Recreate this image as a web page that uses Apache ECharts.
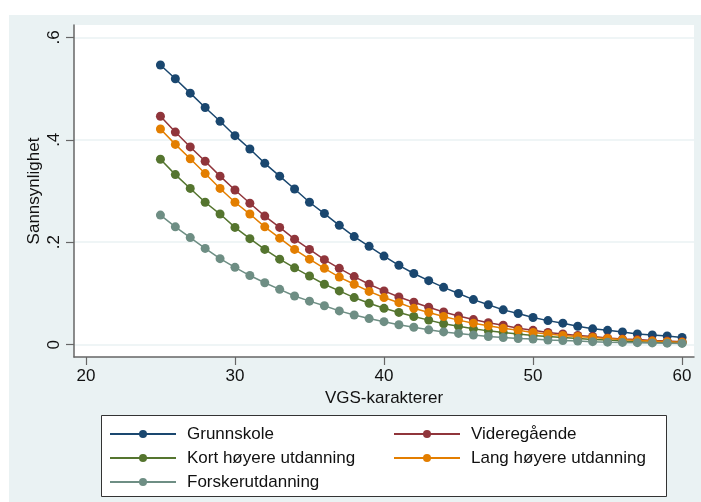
<!DOCTYPE html>
<html>
<head>
<meta charset="utf-8">
<script src="https://cdn.jsdelivr.net/npm/echarts@6/dist/echarts.min.js"></script>
<style>
html,body{margin:0;padding:0;background:#fff;}
#chart{width:701px;height:502px;}
</style>
</head>
<body>
<div id="chart"></div>
<script>
const xValues = [25,26,27,28,29,30,31,32,33,34,35,36,37,38,39,40,41,42,43,44,45,46,47,48,49,50,51,52,53,54,55,56,57,58,59,60];
const grunnskole = [.546,.519,.491,.463,.436,.408,.382,.354,.329,.304,.278,.256,.233,.211,.192,.173,.155,.139,.125,.112,.100,.088,.078,.068,.061,.053,.047,.042,.036,.031,.028,.025,.021,.019,.017,.014];
const videregaende = [.446,.415,.386,.358,.329,.302,.276,.251,.229,.206,.186,.166,.149,.133,.118,.105,.093,.083,.073,.064,.056,.049,.043,.038,.032,.028,.024,.021,.018,.016,.013,.011,.010,.008,.007,.006];
const kortHoyere = [.362,.332,.305,.278,.255,.229,.207,.186,.167,.150,.134,.118,.105,.092,.081,.071,.063,.055,.048,.041,.036,.031,.027,.024,.021,.018,.016,.014,.012,.010,.009,.007,.006,.005,.0045,.004];
const langHoyere = [.421,.391,.363,.334,.305,.278,.255,.230,.208,.186,.167,.149,.132,.118,.104,.092,.082,.071,.063,.055,.048,.042,.037,.032,.028,.024,.021,.018,.016,.014,.012,.010,.008,.007,.006,.005];
const forsker = [.253,.230,.209,.188,.168,.151,.135,.121,.108,.095,.085,.076,.066,.058,.051,.045,.039,.034,.029,.025,.022,.019,.016,.014,.012,.011,.009,.008,.007,.006,.005,.0045,.004,.0035,.003,.0025];
const seriesNames = ['Grunnskole','Videregående','Kort høyere utdanning','Lang høyere utdanning','Forskerutdanning'];
const xTicks = [20,30,40,50,60];
const yTicks = [0,0.2,0.4,0.6];
const yTickLabels = ['0','.2','.4','.6'];
const xTitle = 'VGS-karakterer';
const yTitle = 'Sannsynlighet';

const colors = ['#1a476f','#90353b','#55752f','#e37e00','#6e8e84'];
const seriesData = [grunnskole, videregaende, kortHoyere, langHoyere, forsker];
const FONT = '"Liberation Sans", Arial, sans-serif';

const chart = echarts.init(document.getElementById('chart'), null, {renderer:'canvas'});
const option = {
  backgroundColor: '#ffffff',
  animation: false,
  textStyle: {fontFamily: FONT},
  graphic: {
    elements: [
      {type:'rect', z:-100, silent:true, shape:{x:9,y:15,width:692,height:487}, style:{fill:'#eaf2f3'}},
      {type:'rect', z:1, silent:true, shape:{x:101.5,y:415.5,width:565,height:81}, style:{fill:'#ffffff', stroke:'#333333', lineWidth:1}}
    ]
  },
  grid: {left:74, top:25, right:7, bottom:145, show:true, backgroundColor:'#ffffff', borderWidth:0, containLabel:false},
  xAxis: {
    type:'value', min:19.2, max:60.8,
    name: xTitle, nameLocation:'middle', nameGap:27,
    nameTextStyle:{fontSize:17, color:'#111', fontFamily:FONT},
    axisLine:{show:true, onZero:false, lineStyle:{color:'#666', width:1.5}},
    axisTick:{show:true, length:8, customValues:xTicks, lineStyle:{color:'#666', width:1.2}},
    axisLabel:{customValues:xTicks, fontSize:17, color:'#111', margin:11, fontFamily:FONT},
    splitLine:{show:false}
  },
  yAxis: {
    type:'value', min:-0.024, max:0.624,
    name: yTitle, nameLocation:'middle', nameGap:31, nameRotate:90, nameMoveOverlap:false,
    nameTextStyle:{fontSize:17, color:'#111', fontFamily:FONT},
    axisLine:{show:true, onZero:false, lineStyle:{color:'#666', width:1.5}},
    axisTick:{show:true, length:8, customValues:yTicks, lineStyle:{color:'#666', width:1.2}},
    axisLabel:{customValues:yTicks, rotate:90, fontSize:17, color:'#111', margin:11, fontFamily:FONT,
      formatter: function(v){ const i = yTicks.findIndex(t => Math.abs(t - v) < 1e-6); return i >= 0 ? yTickLabels[i] : ''; }},
    splitLine:{show:true, customValues:yTicks, lineStyle:{color:'#eaf2f3', width:1.5}}
  },
  legend: [
    {
      data:[seriesNames[0], seriesNames[2], seriesNames[4]],
      orient:'vertical', left:109, top:425.5, padding:0, itemWidth:66, itemHeight:10, itemGap:7,
      textStyle:{fontSize:17, color:'#111', fontFamily:FONT, padding:[0,0,0,6]},
      selectedMode:false
    },
    {
      data:[seriesNames[1], seriesNames[3]],
      orient:'vertical', left:393, top:425.5, padding:0, itemWidth:66, itemHeight:10, itemGap:7,
      textStyle:{fontSize:17, color:'#111', fontFamily:FONT, padding:[0,0,0,6]},
      selectedMode:false
    }
  ],
  series: seriesNames.map((n, i) => ({
    name:n, type:'line',
    data: xValues.map((x, j) => [x, seriesData[i][j]]),
    symbol:'circle', symbolSize:9, showSymbol:true,
    lineStyle:{color:colors[i], width:1.5},
    itemStyle:{color:colors[i]},
    z: 2 + i
  }))
};
chart.setOption(option);
</script>
</body>
</html>
